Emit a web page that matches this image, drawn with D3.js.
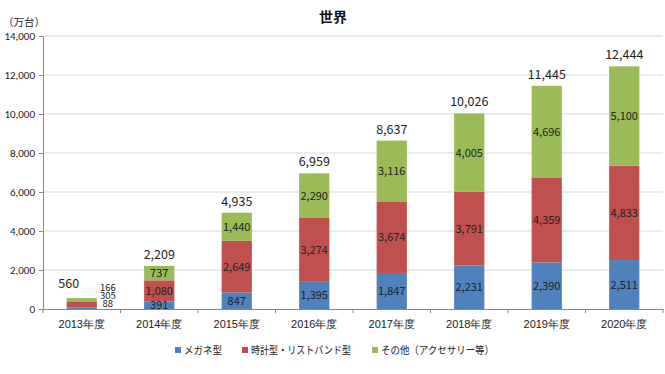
<!DOCTYPE html>
<html>
<head>
<meta charset="utf-8">
<script src="https://cdn.jsdelivr.net/npm/d3@7"></script>
<style>
  body { margin: 0; background: #fff; }
  svg { font-family: "Noto Sans CJK JP", "Noto Sans", sans-serif; }
</style>
</head>
<body>
<svg id="chart" width="665" height="374"></svg>
<script>
const years = ['2013年度', '2014年度', '2015年度', '2016年度', '2017年度', '2018年度', '2019年度', '2020年度'];
const glasses = [88, 391, 847, 1395, 1847, 2231, 2390, 2511];
const wrist   = [305, 1080, 2649, 3274, 3674, 3791, 4359, 4833];
const other   = [166, 737, 1440, 2290, 3116, 4005, 4696, 5100];
const totals  = [560, 2209, 4935, 6959, 8637, 10026, 11445, 12444];
const seriesNames = ['メガネ型', '時計型・リストバンド型', 'その他（アクセサリー等）'];
const yTicks = [0, 2000, 4000, 6000, 8000, 10000, 12000, 14000];

const colors = ['#4F81BD', '#C0504D', '#9BBB59'];
const fmt = d3.format(',');
const numFont = 'Calibri, "Liberation Sans", "Noto Sans", sans-serif';

const svg = d3.select('#chart');
const margin = { top: 36, right: 2, bottom: 65, left: 43 };
const width = 665 - margin.left - margin.right;
const height = 374 - margin.top - margin.bottom;

const g = svg.append('g').attr('transform', `translate(${margin.left},${margin.top})`);

const x = d3.scaleBand().domain(years).range([0, width]).paddingInner(0.61).paddingOuter(0.305);
const y = d3.scaleLinear().domain([0, 14000]).range([height, 0]);

// gridlines
g.selectAll('.grid').data(yTicks.slice(1)).enter().append('line')
  .attr('x1', 0).attr('x2', width)
  .attr('y1', d => y(d)).attr('y2', d => y(d))
  .attr('stroke', '#D9D9D9').attr('stroke-width', 1);

// stack
const rows = years.map((yr, i) => ({ year: yr, a: glasses[i], b: wrist[i], c: other[i] }));
const stack = d3.stack().keys(['a', 'b', 'c'])(rows);

g.selectAll('.layer').data(stack).enter().append('g')
  .attr('fill', (d, i) => colors[i])
  .selectAll('rect').data(d => d).enter().append('rect')
  .attr('x', d => x(d.data.year))
  .attr('width', x.bandwidth())
  .attr('y', d => y(d[1]))
  .attr('height', d => y(d[0]) - y(d[1]));

// segment labels (first year is too short, so its labels sit to the right)
stack.forEach((layer, li) => {
  layer.forEach((d, i) => {
    const small = i === 0;
    const cx = small ? x(d.data.year) + x.bandwidth() + 11 : x(d.data.year) + x.bandwidth() / 2;
    const cy = small ? y(0) - 2 - li * 8 : (y(d[0]) + y(d[1])) / 2 + 4;
    g.append('text')
      .attr('x', cx).attr('y', cy)
      .attr('text-anchor', 'middle')
      .attr('font-size', small ? 9.5 : 11)
      .attr('fill', '#222')
      .text(fmt(d[1] - d[0]));
  });
});

// totals
totals.forEach((t, i) => {
  const cx = i === 0 ? x(years[i]) + x.bandwidth() / 2 - 13 : x(years[i]) + x.bandwidth() / 2;
  const cy = i === 0 ? y(t) - 10 : y(t) - 7;
  g.append('text')
    .attr('x', cx).attr('y', cy)
    .attr('text-anchor', 'middle')
    .attr('font-size', 12.5)
    .attr('fill', '#222')
    .text(fmt(t));
});

// y axis
const yAxis = g.append('g').call(d3.axisLeft(y).tickValues(yTicks).tickFormat(fmt).tickSize(4).tickSizeOuter(0));
yAxis.select('.domain').attr('stroke', '#888');
yAxis.selectAll('.tick line').attr('stroke', '#888');
yAxis.selectAll('.tick text').attr('font-size', 11).attr('fill', '#222').attr('x', -8)
  .style('font-family', numFont);

// x axis
const xAxis = g.append('g').attr('transform', `translate(0,${height})`)
  .call(d3.axisBottom(x).tickSize(0).tickSizeOuter(0));
xAxis.select('.domain').attr('stroke', '#888');
xAxis.selectAll('.tick text').attr('font-size', 11).attr('fill', '#222').attr('dy', '1.45em');
const step = x.step();
g.selectAll('.xtick').data(d3.range(years.length + 1)).enter().append('line')
  .attr('x1', d => d * step).attr('x2', d => d * step)
  .attr('y1', height).attr('y2', height + 4)
  .attr('stroke', '#888');

// title and unit
svg.append('text').attr('x', 333).attr('y', 22).attr('text-anchor', 'middle')
  .attr('font-size', 14).attr('font-weight', 'bold').attr('fill', '#111').text('世界');
svg.append('text').attr('x', 3).attr('y', 26).attr('font-size', 10.5).attr('fill', '#222').text('（万台）');

// legend
const legendX = [175, 242, 372];
const legendW = [38, 100, 113];
const legend = svg.append('g');
seriesNames.forEach((name, i) => {
  legend.append('rect').attr('x', legendX[i]).attr('y', 347).attr('width', 6).attr('height', 6).attr('fill', colors[i]);
  legend.append('text').attr('x', legendX[i] + 9).attr('y', 354).attr('font-size', 10.5).attr('fill', '#222')
    .attr('textLength', legendW[i]).attr('lengthAdjust', 'spacingAndGlyphs').text(name);
});
</script>
</body>
</html>
